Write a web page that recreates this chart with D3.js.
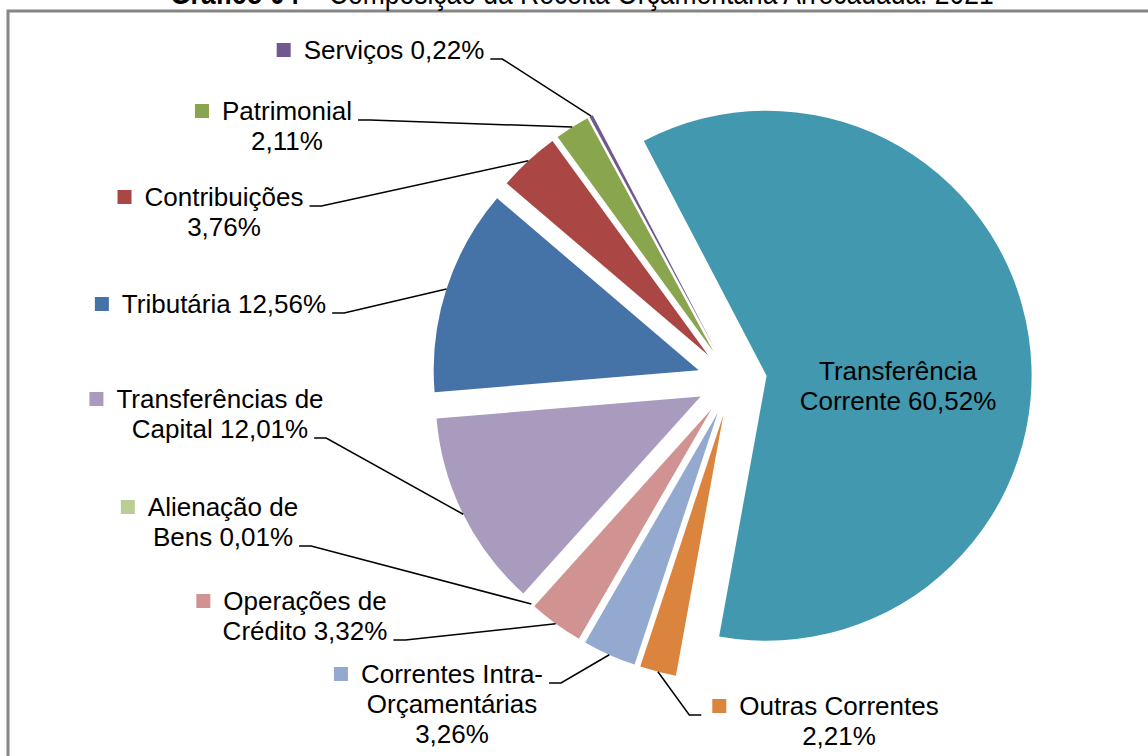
<!DOCTYPE html>
<html>
<head>
<meta charset="utf-8">
<script src="https://cdn.jsdelivr.net/npm/d3@7"></script>
<style>
  body { margin: 0; background: #fff; }
  svg text { font-family: "Liberation Sans", Arial, sans-serif; fill: #000; }
</style>
</head>
<body>
<svg id="chart" width="1148" height="756"></svg>
<script>

// Receita arrecadada, 2021 (% do total) - in pie order, clockwise
var categories = ["Transferência Corrente", "Outras Correntes", "Correntes Intra-Orçamentárias",
    "Operações de Crédito", "Alienação de Bens", "Transferências de Capital",
    "Tributária", "Contribuições", "Patrimonial", "Serviços"];
var shares = [60.52, 2.21, 3.26, 3.32, 0.01, 12.01, 12.56, 3.76, 2.11, 0.22];

// label text as wrapped in the chart
var labelLines = [
    ["Transferência", "Corrente 60,52%"],
    ["Outras Correntes", "2,21%"],
    ["Correntes Intra-", "Orçamentárias", "3,26%"],
    ["Operações de", "Crédito 3,32%"],
    ["Alienação de", "Bens 0,01%"],
    ["Transferências de", "Capital 12,01%"],
    ["Tributária 12,56%"],
    ["Contribuições", "3,76%"],
    ["Patrimonial", "2,11%"],
    ["Serviços 0,22%"]
];

var colors = ["#4198AF", "#DB843D", "#93A9CF", "#D19392", "#B9CD96",
    "#A99BBD", "#4572A7", "#AA4643", "#89A54E", "#71588F"];

/*****************************/
// Layout
/*****************************/

var svg = d3.select("#chart");

var cx = 732, cy = 381, radius = 265, explode = 35;
var startAngle = -27.6 * Math.PI / 180;
var lineHeight = 30, keySize = 14;

// label anchor: centre x of text, baseline of first line, line the leader attaches to (-1 = none)
var labelLayout = [
    {x: 898, y: 380, attach: -1, key: false},
    {x: 839, y: 715, attach: 0, key: true},
    {x: 452, y: 683, attach: 0, key: true},
    {x: 305, y: 610, attach: 1, key: true},
    {x: 223, y: 516, attach: 1, key: true},
    {x: 220, y: 408, attach: 1, key: true},
    {x: 224, y: 313, attach: 0, key: true},
    {x: 224, y: 206, attach: 0, key: true},
    {x: 287, y: 120, attach: 0, key: true},
    {x: 394, y: 59, attach: 0, key: true}
];

// Frame
svg.append("rect")
    .attr("x", 8)
    .attr("y", 11)
    .attr("width", 1160)
    .attr("height", 770)
    .attr("fill", "none")
    .attr("stroke", "#868686")
    .attr("stroke-width", 3);

// Title (cut at the top of the page, condensed face)
var title = svg.append("text")
    .attr("transform", "translate(170,4) scale(0.827,1)")
    .style("font-size", "32px");
title.append("tspan").style("font-weight", "bold").text("Gráfico 04");
title.append("tspan").text(" – Composição da Receita Orçamentária Arrecadada: 2021");

/*****************************/
// Pie
/*****************************/

var pie = d3.pie()
    .sort(null)
    .value(function(d) { return d; })
    .startAngle(startAngle)
    .endAngle(startAngle + 2 * Math.PI);

var arcs = pie(shares);

var arc = d3.arc().innerRadius(0).outerRadius(radius);

function midAngle(d) { return (d.startAngle + d.endAngle) / 2; }

// offset of each exploded slice
function offset(d) {
    var a = midAngle(d);
    return [explode * Math.sin(a), -explode * Math.cos(a)];
}

var slices = svg.append("g")
    .attr("transform", "translate(" + cx + "," + cy + ")");

slices.selectAll("path")
    .data(arcs)
    .enter()
    .append("path")
    .attr("d", arc)
    .attr("fill", function(d, i) { return colors[i]; })
    .attr("transform", function(d) {
        var o = offset(d);
        return "translate(" + o[0] + "," + o[1] + ")";
    });

/*****************************/
// Labels and leader lines
/*****************************/

var labels = svg.append("g");
var leaders = svg.append("g");

arcs.forEach(function(d, i) {

    var lay = labelLayout[i];
    var g = labels.append("g");
    var boxes = [];

    labelLines[i].forEach(function(line, j) {
        var t = g.append("text")
            .attr("x", lay.x)
            .attr("y", lay.y + j * lineHeight)
            .attr("text-anchor", "middle")
            .style("font-size", "26px")
            .text(line);
        var w = t.node().getComputedTextLength();
        boxes.push({left: lay.x - w / 2, right: lay.x + w / 2, y: lay.y + j * lineHeight});
    });

    // legend key before the first line
    if (lay.key) {
        var keyX = boxes[0].left - 13 - keySize;
        g.append("rect")
            .attr("x", keyX)
            .attr("y", lay.y - 16)
            .attr("width", keySize)
            .attr("height", keySize)
            .attr("fill", colors[i]);
        boxes[0].left = keyX;
    }

    if (lay.attach < 0) return;

    // point on the outer edge of the exploded slice
    var a = midAngle(d);
    var o = offset(d);
    var px = cx + o[0] + radius * Math.sin(a);
    var py = cy + o[1] - radius * Math.cos(a);

    var b = boxes[lay.attach];
    var x0, x1;
    if (lay.x < px) {
        x0 = b.right + 6;
        x1 = x0 + 12;
    } else {
        x0 = b.left - 11;
        x1 = x0 - 12;
    }

    leaders.append("path")
        .attr("d", d3.line()([[x0, b.y], [x1, b.y], [px, py]]))
        .attr("fill", "none")
        .attr("stroke", "#000")
        .attr("stroke-width", 1.5);
});

</script>
</body>
</html>
